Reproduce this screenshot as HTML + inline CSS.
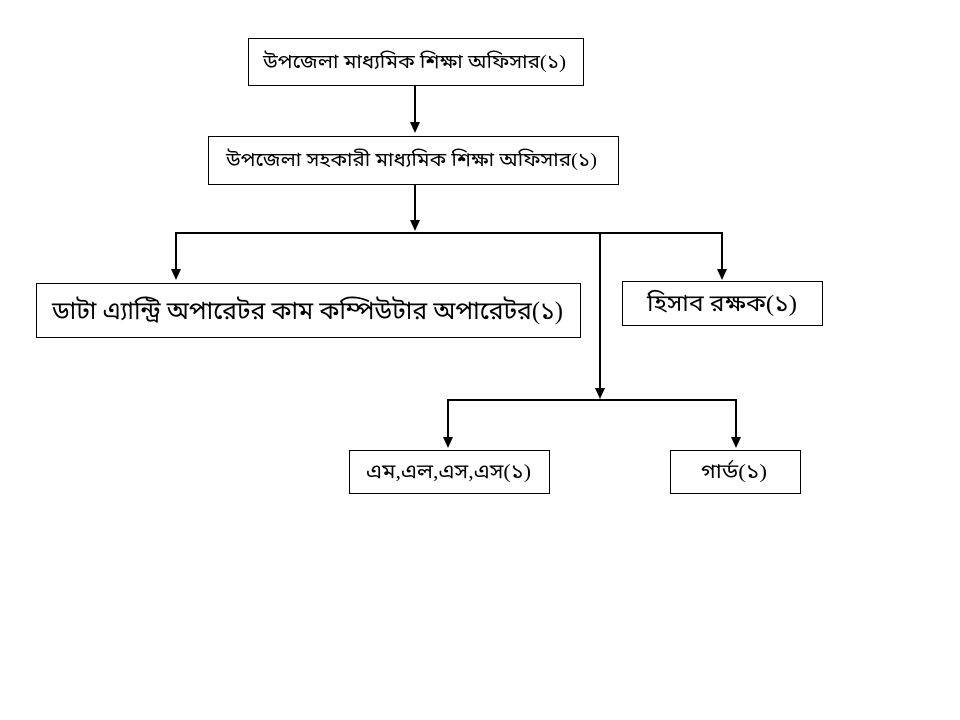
<!DOCTYPE html>
<html><head><meta charset="utf-8"><style>
html,body{margin:0;padding:0;background:#fff;}
svg{display:block}
text{font-family:"Liberation Serif","Noto Sans Bengali","Lohit Bengali",serif;fill:#000}
</style></head><body>
<svg width="960" height="720" viewBox="0 0 960 720" xmlns="http://www.w3.org/2000/svg">
<g fill="none" stroke="#000" stroke-width="1">
<rect x="248.5" y="38.5" width="335" height="47"/>
<rect x="208.5" y="136.5" width="410" height="48"/>
<rect x="36.5" y="283.5" width="544" height="54"/>
<rect x="622.5" y="281.5" width="200" height="44"/>
<rect x="349.5" y="450.5" width="200" height="43"/>
<rect x="670.5" y="450.5" width="130" height="43"/>
</g>
<g stroke="#000" stroke-width="2" fill="none">
<line x1="415" y1="86" x2="415" y2="124"/>
<line x1="415" y1="185" x2="415" y2="222"/>
<polyline points="176,272 176,233 722,233 722,272"/>
<line x1="600" y1="233" x2="600" y2="390"/>
<polyline points="448,440 448,400 736,400 736,440"/>
</g>
<g fill="#000">
<path d="M410,122 L420,122 L415,133 Z"/>
<path d="M410,220 L420,220 L415,231 Z"/>
<path d="M171,269 L181,269 L176,280 Z"/>
<path d="M717,269 L727,269 L722,280 Z"/>
<path d="M595,388 L605,388 L600,399 Z"/>
<path d="M443,437 L453,437 L448,448 Z"/>
<path d="M731,437 L741,437 L736,448 Z"/>
</g>
<text x="263" y="68" font-size="19" textLength="303" lengthAdjust="spacingAndGlyphs">উপজেলা মাধ্যমিক শিক্ষা অফিসার(১)</text>
<text x="226" y="166" font-size="19" textLength="371" lengthAdjust="spacingAndGlyphs">উপজেলা সহকারী মাধ্যমিক শিক্ষা অফিসার(১)</text>
<text x="52" y="319" font-size="25" textLength="511" lengthAdjust="spacingAndGlyphs">ডাটা এ্যান্ট্রি অপারেটর কাম কম্পিউটার অপারেটর(১)</text>
<text x="647" y="311" font-size="23" textLength="150" lengthAdjust="spacingAndGlyphs">হিসাব রক্ষক(১)</text>
<text x="366" y="478" font-size="20" textLength="165" lengthAdjust="spacingAndGlyphs">এম,এল,এস,এস(১)</text>
<text x="701" y="478" font-size="20" textLength="66" lengthAdjust="spacingAndGlyphs">গার্ড(১)</text>
</svg>
</body></html>
